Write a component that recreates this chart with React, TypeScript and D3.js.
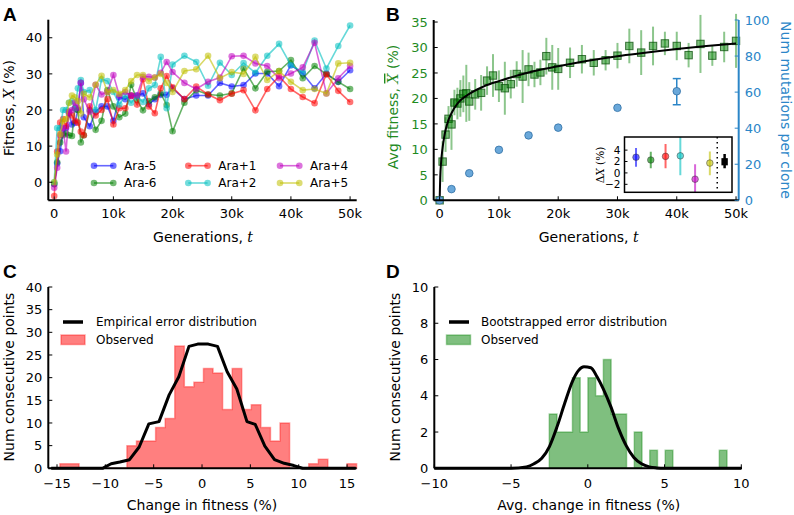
import React from "react";
import * as d3 from "d3";

// ---------------- data ----------------
const GENERATIONS = [0, 500, 1000, 1500, 2000, 2500, 3000, 3500, 4000, 4500, 5000, 6000, 7000, 8000, 9000, 10000, 11000, 12000, 13000, 14000, 15000, 16000, 17000, 18000, 19000, 20000, 22000, 24000, 26000, 28000, 30000, 32000, 34000, 36000, 38000, 40000, 42000, 44000, 46000, 48000, 50000];

const ARA_M5 = [-0.5, 5.2, 8.6, 13.5, 15, 19, 16, 16.5, 20, 27.5, 18, 15.5, 19.5, 21, 21, 17, 23.5, 23, 24, 24, 24.6, 21.6, 23, 24.2, 24.2, 26, 23, 24, 24, 27.5, 26.5, 26.9, 30.1, 30.1, 26.6, 32.4, 30.1, 26, 30.1, 27.8, 31];
const ARA_M6 = [-0.5, 5.5, 11, 13, 13.5, 13, 12.8, 20.5, 20, 11, 13, 20, 14.5, 17, 25.5, 21, 18, 19, 27, 22.8, 19.9, 22.5, 23.5, 24.6, 21.4, 14.1, 22, 25.5, 24.3, 24, 24.6, 31.5, 26, 30.6, 30.8, 33.8, 28.8, 32.2, 29.9, 27.8, 25.8];
const ARA_P1 = [-3.8, 8.5, 16.5, 17.5, 15.5, 19.5, 18.5, 17, 16.5, 14, 13, 21, 18.5, 20, 23, 16, 20.5, 20.5, 24, 21.5, 28.5, 21, 19.1, 26, 29.4, 26.3, 23, 26.5, 24.3, 22.7, 24.5, 25.5, 19.9, 25.8, 29.3, 25.8, 23.6, 21.9, 29.9, 25.3, 22.2];
const ARA_P2 = [0, 15, 15, 20, 20, 22, 22.5, 20.5, 26, 28.3, 25, 25.5, 20, 28.5, 28, 25, 21.5, 24, 22, 23.8, 22.2, 26, 26.9, 34.7, 20.5, 32.6, 35, 33.3, 26.7, 33.1, 29.7, 33, 30.3, 35, 38.3, 32.4, 30.5, 39.2, 31.5, 37.7, 43.4];
const ARA_P4 = [-1.5, 4, 13, 15, 8.5, 19.5, 20, 22, 20.5, 27.5, 23, 19.5, 27, 24.3, 25, 29.7, 24, 25, 23.9, 24, 29.2, 29.2, 29, 30.3, 33.3, 30.5, 27.5, 25.8, 27.8, 29, 34.9, 35, 32.9, 32.2, 28.8, 30.1, 31.8, 38.6, 24.6, 28.8, 32.2];
const ARA_P5 = [0, 7.7, 13.3, 17, 17.5, 22, 24, 23.5, 22.5, 19, 24.5, 23.5, 27, 29.5, 25, 25.5, 24.5, 25.5, 28, 29.7, 29.7, 28, 29, 30, 27.5, 25, 30.8, 31.3, 35, 28.8, 30.5, 30, 34.7, 28.3, 30.8, 27.8, 25.5, 25.8, 24.6, 32.9, 33.1];
const POP_NAMES = ["Ara-5", "Ara-6", "Ara+1", "Ara+2", "Ara+4", "Ara+5"];
const POP_COLORS = ["#0000ff", "#008000", "#ff0000", "#00bfbf", "#bf00bf", "#bfbf00"];

const AVG_FITNESS = [0, 7.6, 12.9, 16.0, 14.9, 19.2, 19.0, 20.0, 20.9, 21.0, 19.4, 20.8, 21.1, 23.5, 24.5, 22.4, 22.0, 22.8, 24.8, 24.3, 25.7, 24.7, 25.1, 28.3, 26.1, 25.8, 27.0, 27.7, 27.0, 27.5, 28.4, 30.3, 29.0, 30.3, 30.8, 30.3, 28.5, 30.7, 28.4, 30.1, 31.3];
const AVG_FITNESS_ERR = [0, 4, 3.4, 2.5, 5, 2.5, 3.1, 3.6, 3.6, 5.6, 3.8, 3, 3.5, 2.8, 4.2, 3.1, 5.2, 2.8, 2.5, 5.2, 3.3, 2.5, 2.5, 3.6, 4.4, 4.1, 3, 2.8, 2.5, 2, 2.5, 3.4, 4.4, 3.8, 2.3, 2.8, 2.4, 5.7, 2.0, 3, 5.3];
const FIT_T = [0, 100, 250, 500, 750, 1000, 1500, 2000, 3000, 4000, 5000, 7500, 10000, 15000, 20000, 25000, 30000, 35000, 40000, 45000, 50000];
const FIT_X = [0, 4.5, 7.5, 10.3, 12.3, 13.8, 15.8, 17.1, 19.0, 20.1, 20.9, 22.4, 23.4, 25.1, 26.3, 27.4, 28.3, 29.0, 29.7, 30.3, 30.8];
const MUT_T = [0, 2000, 5000, 10000, 15000, 20000, 30000, 40000];
const MUT_N = [0, 6.2, 15, 28, 36, 40.3, 51.3, 60.5];
const MUT_ERR_T = [40000];
const MUT_ERR_LO = [53];
const MUT_ERR_HI = [67.5];

const INSET_DX = [2.75, 2.27, 2.9, 3.0, -1.1, 1.73, 1.96];
const INSET_LO = [1.07, 0.8, 0.8, -0.4, -3.6, -0.4, 0.8];
const INSET_HI = [4.36, 3.7, 5.07, 6.6, 1.5, 3.75, 3.3];
const INSET_TICKS = [-2, 0, 2, 4];

const C_BIN_START = -14.7;
const C_BIN_WIDTH = 0.99;
const C_COUNTS = [1, 1, 0, 0, 0, 0, 0, 5, 6, 6, 9, 11, 27, 18, 19, 22, 21, 13, 22, 13, 14, 9, 6, 10, 0, 0, 1, 2, 0, 0, 1];
const C_ERR_X = [-15.6, -10.3, -9.4, -8.5, -7.5, -6.5, -5.5, -4.45, -3.4, -2.4, -1.35, -0.45, 0.65, 1.6, 2.6, 3.6, 4.65, 5.5, 6.5, 7.5, 8.5, 9.5, 10.4, 15.9];
const C_ERR_Y = [0, 0, 1.0, 1.4, 1.9, 4.7, 9.8, 10.3, 16.2, 20.2, 26.9, 27.4, 27.4, 26.9, 21.3, 17.5, 10.3, 9.7, 4.9, 1.9, 1.1, 0.6, 0, 0];

const D_BIN_START = -2.51;
const D_BIN_WIDTH = 0.5035;
const D_COUNTS = [3, 2, 2, 5, 2, 5, 4, 6, 3, 3, 0, 2, 0, 1, 0, 1, 0, 0, 0, 0, 0, 0, 1];
const D_BOOT_X = [-10, -5, -4, -3.5, -3, -2.5, -2, -1.5, -1, -0.6, -0.25, 0.2, 0.6, 1, 1.5, 2, 2.5, 3, 3.5, 4, 4.5, 5, 10];
const D_BOOT_Y = [0, 0, 0.08, 0.25, 0.55, 1.2, 2.3, 3.6, 4.8, 5.4, 5.6, 5.55, 5.05, 4.4, 3.4, 2.2, 1.25, 0.6, 0.25, 0.08, 0.02, 0, 0];

const A_X_TICKS = [0, 10000, 20000, 30000, 40000, 50000];
const A_Y_TICKS = [0, 10, 20, 30, 40];
const B_YL_TICKS = [0, 5, 10, 15, 20, 25, 30, 35];
const B_YR_TICKS = [0, 20, 40, 60, 80, 100];
const C_X_TICKS = [-15, -10, -5, 0, 5, 10, 15];
const C_Y_TICKS = [0, 5, 10, 15, 20, 25, 30, 35, 40];
const D_X_TICKS = [-10, -5, 0, 5, 10];
const D_Y_TICKS = [0, 2, 4, 6, 8, 10];

// ---------------- helpers ----------------
const FONT = "'DejaVu Sans', sans-serif";
const SERIF = "'DejaVu Serif', serif";
const num = (v: number) => (v < 0 ? "\u2212" + Math.abs(v) : String(v));
const kfmt = (v: number) => (v === 0 ? "0" : `${v / 1000}k`);

function stepPath(start: number, width: number, counts: number[], x: any, y: any) {
  const parts: string[] = [`M${x(start)},${y(0)}`];
  counts.forEach((c, k) => {
    parts.push(`L${x(start + k * width)},${y(c)}`);
    parts.push(`L${x(start + (k + 1) * width)},${y(c)}`);
  });
  parts.push(`L${x(start + counts.length * width)},${y(0)}Z`);
  return parts.join("");
}

function YAxis({ x, scale, ticks, fmt, color = "#000", textColor = "#000", side = "left", fontSize = 13, len = 4 }: any) {
  const dir = side === "left" ? 1 : -1;
  return (
    <g>
      {ticks.map((t: number) => (
        <g key={t}>
          <line x1={x} x2={x + dir * len} y1={scale(t)} y2={scale(t)} stroke={color} strokeWidth={1} />
          <text
            x={side === "left" ? x - 6 : x + 6}
            y={scale(t)}
            dy="0.36em"
            textAnchor={side === "left" ? "end" : "start"}
            fontSize={fontSize}
            fontFamily={FONT}
            fill={textColor}
          >
            {fmt(t)}
          </text>
        </g>
      ))}
    </g>
  );
}

function XAxis({ y, scale, ticks, fmt, fontSize = 13, offset = 18 }: any) {
  return (
    <g>
      {ticks.map((t: number) => (
        <g key={t}>
          <line x1={scale(t)} x2={scale(t)} y1={y} y2={y - 4} stroke="#000" strokeWidth={1} />
          <text x={scale(t)} y={y + offset} textAnchor="middle" fontSize={fontSize} fontFamily={FONT} fill="#000">
            {fmt(t)}
          </text>
        </g>
      ))}
    </g>
  );
}

export default function App() {
  // ---------- panel A ----------
  const xA = d3.scaleLinear().domain([-1000, 51000]).range([48.3, 356]);
  const yA = d3.scaleLinear().domain([-5, 45]).range([200.3, 19.7]);
  const series = [ARA_M5, ARA_M6, ARA_P1, ARA_P2, ARA_P4, ARA_P5];
  const lineA = d3
    .line<number>()
    .x((_, i) => xA(GENERATIONS[i]))
    .y((v) => yA(v));

  // ---------- panel B ----------
  const xB = d3.scaleLinear().domain([-1000, 50450]).range([433.7, 738.7]);
  const yBL = d3.scaleLinear().domain([0, 35.4]).range([200.3, 20]);
  const yBR = d3.scaleLinear().domain([0, 100]).range([200.3, 20]);
  const fitLine = d3
    .line<number>()
    .x((_, i) => xB(FIT_T[i]))
    .y((v) => yBL(v))
    .curve(d3.curveMonotoneX);
  const xIn = d3.scaleLinear().domain([-0.78, 6.5]).range([624.5, 732]);
  const yIn = d3.scaleLinear().domain([-3.4, 6.3]).range([192.3, 137]);
  const inColors = [...POP_COLORS, "#000000"];

  // ---------- panel C ----------
  const xC = d3.scaleLinear().domain([-15.9, 16.0]).range([48.3, 356.7]);
  const yC = d3.scaleLinear().domain([0, 40]).range([468.3, 287]);
  const errLineC = d3
    .line<number>()
    .x((_, i) => xC(C_ERR_X[i]))
    .y((v) => yC(v));

  // ---------- panel D ----------
  const xD = d3.scaleLinear().domain([-10, 10]).range([434.3, 741.3]);
  const yD = d3.scaleLinear().domain([0, 10]).range([468.3, 287]);
  const bootLine = d3
    .line<number>()
    .x((_, i) => xD(D_BOOT_X[i]))
    .y((v) => yD(v))
    .curve(d3.curveMonotoneX);

  const green = "#1f8b1f";
  const blue = "#2b86c8";

  const legendA = [
    { col: 0, row: 0, i: 0 },
    { col: 0, row: 1, i: 1 },
    { col: 1, row: 0, i: 2 },
    { col: 1, row: 1, i: 3 },
    { col: 2, row: 0, i: 4 },
    { col: 2, row: 1, i: 5 },
  ];
  const legColX = [94, 188.3, 280];
  const legRowY = [165.7, 183];

  return (
    <svg
      width={794}
      height={515}
      viewBox="0 0 794 515"
      style={{ position: "absolute", left: 0, top: 0, display: "block", background: "#fff" }}
    >
      <rect x={0} y={0} width={794} height={515} fill="#fff" />
      <defs>
        <clipPath id="insetClip">
          <rect x={624.5} y={137} width={107.5} height={55.3} />
        </clipPath>
      </defs>

      {/* Panel letters */}
      <g fontFamily="'Liberation Sans', Arial, sans-serif" fontWeight="bold" fontSize={19}>
        <text x={3} y={20.5}>A</text>
        <text x={386} y={20.5}>B</text>
        <text x={3} y={277.5}>C</text>
        <text x={386} y={277.5}>D</text>
      </g>

      {/* ================= Panel A ================= */}
      <g>
        {series.map((vals, s) => (
          <g key={POP_NAMES[s]}>
            <path d={lineA(vals) || ""} fill="none" stroke={POP_COLORS[s]} strokeOpacity={0.6} strokeWidth={1.6} />
            {vals.map((v, i) => (
              <circle key={i} cx={xA(GENERATIONS[i])} cy={yA(v)} r={3.3} fill={POP_COLORS[s]} fillOpacity={0.55} />
            ))}
          </g>
        ))}
        <line x1={48.3} x2={48.3} y1={19.7} y2={200.3} stroke="#000" strokeWidth={2} />
        <line x1={48.3} x2={356.7} y1={200.3} y2={200.3} stroke="#000" strokeWidth={2} />
        <YAxis x={48.3} scale={yA} ticks={A_Y_TICKS} fmt={num} />
        <XAxis y={200.3} scale={xA} ticks={A_X_TICKS} fmt={kfmt} />
        <text x={203} y={242} textAnchor="middle" fontSize={14} fontFamily={FONT}>
          Generations, <tspan fontFamily={SERIF} fontStyle="italic">t</tspan>
        </text>
        <text transform="translate(14,108) rotate(-90)" textAnchor="middle" fontSize={14} fontFamily={FONT}>
          Fitness, <tspan fontFamily={SERIF} fontStyle="italic">X</tspan> (%)
        </text>
        {legendA.map(({ col, row, i }) => {
          const x0 = legColX[col];
          const y0 = legRowY[row];
          return (
            <g key={POP_NAMES[i]}>
              <line x1={x0} x2={x0 + 19.3} y1={y0} y2={y0} stroke={POP_COLORS[i]} strokeOpacity={0.6} strokeWidth={1.6} />
              <circle cx={x0} cy={y0} r={3.3} fill={POP_COLORS[i]} fillOpacity={0.55} />
              <circle cx={x0 + 19.3} cy={y0} r={3.3} fill={POP_COLORS[i]} fillOpacity={0.55} />
              <text x={x0 + 30} y={y0} dy="0.36em" fontSize={12} fontFamily={FONT}>
                {POP_NAMES[i]}
              </text>
            </g>
          );
        })}
      </g>

      {/* ================= Panel B ================= */}
      <g>
        {AVG_FITNESS.map((v, i) => (
          <line
            key={"e" + i}
            x1={xB(GENERATIONS[i])}
            x2={xB(GENERATIONS[i])}
            y1={yBL(v - AVG_FITNESS_ERR[i])}
            y2={yBL(v + AVG_FITNESS_ERR[i])}
            stroke="#008000"
            strokeOpacity={0.45}
            strokeWidth={2}
          />
        ))}
        {AVG_FITNESS.map((v, i) => (
          <rect
            key={"s" + i}
            x={xB(GENERATIONS[i]) - 3.7}
            y={yBL(v) - 3.7}
            width={7.4}
            height={7.4}
            fill="#008000"
            fillOpacity={0.5}
            stroke="#0a4d0a"
            strokeOpacity={0.75}
            strokeWidth={1}
          />
        ))}
        <path d={fitLine(FIT_X) || ""} fill="none" stroke="#000" strokeWidth={2} />
        {MUT_ERR_T.map((t, i) => (
          <g key={"me" + i} stroke={blue} strokeWidth={1.5}>
            <line x1={xB(t)} x2={xB(t)} y1={yBR(MUT_ERR_LO[i])} y2={yBR(MUT_ERR_HI[i])} />
            <line x1={xB(t) - 4} x2={xB(t) + 4} y1={yBR(MUT_ERR_LO[i])} y2={yBR(MUT_ERR_LO[i])} />
            <line x1={xB(t) - 4} x2={xB(t) + 4} y1={yBR(MUT_ERR_HI[i])} y2={yBR(MUT_ERR_HI[i])} />
          </g>
        ))}
        {MUT_N.map((v, i) => (
          <circle key={"m" + i} cx={xB(MUT_T[i])} cy={yBR(v)} r={3.8} fill="#6aa8da" stroke="#2f6fa5" strokeWidth={0.8} />
        ))}
        <line x1={433.7} x2={433.7} y1={20} y2={200.3} stroke="#000" strokeWidth={2} />
        <line x1={738.7} x2={738.7} y1={20} y2={200.3} stroke={blue} strokeWidth={2} />
        <line x1={433.7} x2={738.7} y1={200.3} y2={200.3} stroke="#000" strokeWidth={2} />
        <YAxis x={433.7} scale={yBL} ticks={B_YL_TICKS} fmt={num} textColor={green} />
        <YAxis x={738.7} scale={yBR} ticks={B_YR_TICKS} fmt={num} side="right" color={blue} textColor={blue} />
        <XAxis y={200.3} scale={xB} ticks={A_X_TICKS} fmt={kfmt} />
        <text x={588.7} y={242} textAnchor="middle" fontSize={14} fontFamily={FONT}>
          Generations, <tspan fontFamily={SERIF} fontStyle="italic">t</tspan>
        </text>
        <text transform="translate(398,107) rotate(-90)" textAnchor="middle" fontSize={14} fontFamily={FONT} fill={green}>
          Avg fitness,{" "}
          <tspan fontFamily={SERIF} fontStyle="italic" style={{ textDecoration: "overline" }}>
            X
          </tspan>{" "}
          (%)
        </text>
        <text transform="translate(781,110) rotate(90)" textAnchor="middle" fontSize={14} fontFamily={FONT} fill={blue}>
          Num mutations per clone
        </text>

        {/* inset */}
        <rect x={624.5} y={137} width={107.5} height={55.3} fill="#fff" stroke="none" />
        <g clipPath="url(#insetClip)">
          <line x1={xIn(5.5)} x2={xIn(5.5)} y1={137} y2={192.3} stroke="#000" strokeWidth={1.5} strokeDasharray="1.5,3.5" />
          {INSET_DX.map((v, i) => (
            <g key={"in" + i}>
              <line
                x1={xIn(i)}
                x2={xIn(i)}
                y1={yIn(INSET_LO[i])}
                y2={yIn(INSET_HI[i])}
                stroke={inColors[i]}
                strokeOpacity={i === 6 ? 1 : 0.6}
                strokeWidth={i === 6 ? 2.5 : 2}
              />
              {i === 6 ? (
                <rect x={xIn(i) - 3.2} y={yIn(v) - 3.6} width={6.4} height={7.2} fill="#000" />
              ) : (
                <circle cx={xIn(i)} cy={yIn(v)} r={3.3} fill={inColors[i]} fillOpacity={0.6} stroke="#333" strokeOpacity={0.6} strokeWidth={0.8} />
              )}
            </g>
          ))}
        </g>
        <rect x={624.5} y={137} width={107.5} height={55.3} fill="none" stroke="#000" strokeWidth={1.5} />
        {INSET_TICKS.map((t) => (
          <g key={"it" + t}>
            <line x1={624.5} x2={627.5} y1={yIn(t)} y2={yIn(t)} stroke="#000" strokeWidth={1} />
            <text x={620.5} y={yIn(t)} dy="0.36em" textAnchor="end" fontSize={10.5} fontFamily={FONT}>
              {num(t)}
            </text>
          </g>
        ))}
        <text transform="translate(604,165) rotate(-90)" textAnchor="middle" fontSize={10.5} fontFamily={SERIF}>
          Δ<tspan fontStyle="italic">X</tspan> (%)
        </text>
      </g>

      {/* ================= Panel C ================= */}
      <g>
        <path
          d={stepPath(C_BIN_START, C_BIN_WIDTH, C_COUNTS, xC, yC)}
          fill="#ff0000"
          fillOpacity={0.5}
          stroke="#ff0000"
          strokeOpacity={0.35}
          strokeWidth={1.5}
        />
        <path d={errLineC(C_ERR_Y) || ""} fill="none" stroke="#000" strokeWidth={3} strokeLinejoin="round" />
        <line x1={48.3} x2={48.3} y1={287} y2={468.3} stroke="#000" strokeWidth={2} />
        <line x1={48.3} x2={356.7} y1={468.3} y2={468.3} stroke="#000" strokeWidth={2} />
        <YAxis x={48.3} scale={yC} ticks={C_Y_TICKS} fmt={num} />
        <XAxis y={468.3} scale={xC} ticks={C_X_TICKS} fmt={num} offset={20} />
        <text x={202} y={510} textAnchor="middle" fontSize={14} fontFamily={FONT}>
          Change in fitness (%)
        </text>
        <text transform="translate(14,377) rotate(-90)" textAnchor="middle" fontSize={14} fontFamily={FONT}>
          Num consecutive points
        </text>
        <line x1={63} x2={83} y1={322} y2={322} stroke="#000" strokeWidth={3.5} />
        <text x={96} y={322} dy="0.36em" fontSize={12} fontFamily={FONT}>
          Empirical error distribution
        </text>
        <rect x={61} y={335} width={24} height={9.5} fill="#ff0000" fillOpacity={0.5} stroke="#ff0000" strokeOpacity={0.35} strokeWidth={1.5} />
        <text x={96} y={339.8} dy="0.36em" fontSize={12} fontFamily={FONT}>
          Observed
        </text>
      </g>

      {/* ================= Panel D ================= */}
      <g>
        <path
          d={stepPath(D_BIN_START, D_BIN_WIDTH, D_COUNTS, xD, yD)}
          fill="#008000"
          fillOpacity={0.5}
          stroke="#008000"
          strokeOpacity={0.35}
          strokeWidth={1.5}
        />
        <path d={bootLine(D_BOOT_Y) || ""} fill="none" stroke="#000" strokeWidth={3} />
        <line x1={434.3} x2={434.3} y1={287} y2={468.3} stroke="#000" strokeWidth={2} />
        <line x1={434.3} x2={742} y1={468.3} y2={468.3} stroke="#000" strokeWidth={2} />
        <YAxis x={434.3} scale={yD} ticks={D_Y_TICKS} fmt={num} />
        <XAxis y={468.3} scale={xD} ticks={D_X_TICKS} fmt={num} offset={20} />
        <text x={588.7} y={510} textAnchor="middle" fontSize={14} fontFamily={FONT}>
          Avg. change in fitness (%)
        </text>
        <text transform="translate(400,377) rotate(-90)" textAnchor="middle" fontSize={14} fontFamily={FONT}>
          Num consecutive points
        </text>
        <line x1={449} x2={469} y1={322} y2={322} stroke="#000" strokeWidth={3.5} />
        <text x={481} y={322} dy="0.36em" fontSize={12} fontFamily={FONT}>
          Bootstrapped error distribution
        </text>
        <rect x={446.5} y={335} width={24} height={9.5} fill="#008000" fillOpacity={0.5} stroke="#008000" strokeOpacity={0.35} strokeWidth={1.5} />
        <text x={481} y={339.8} dy="0.36em" fontSize={12} fontFamily={FONT}>
          Observed
        </text>
      </g>
    </svg>
  );
}
